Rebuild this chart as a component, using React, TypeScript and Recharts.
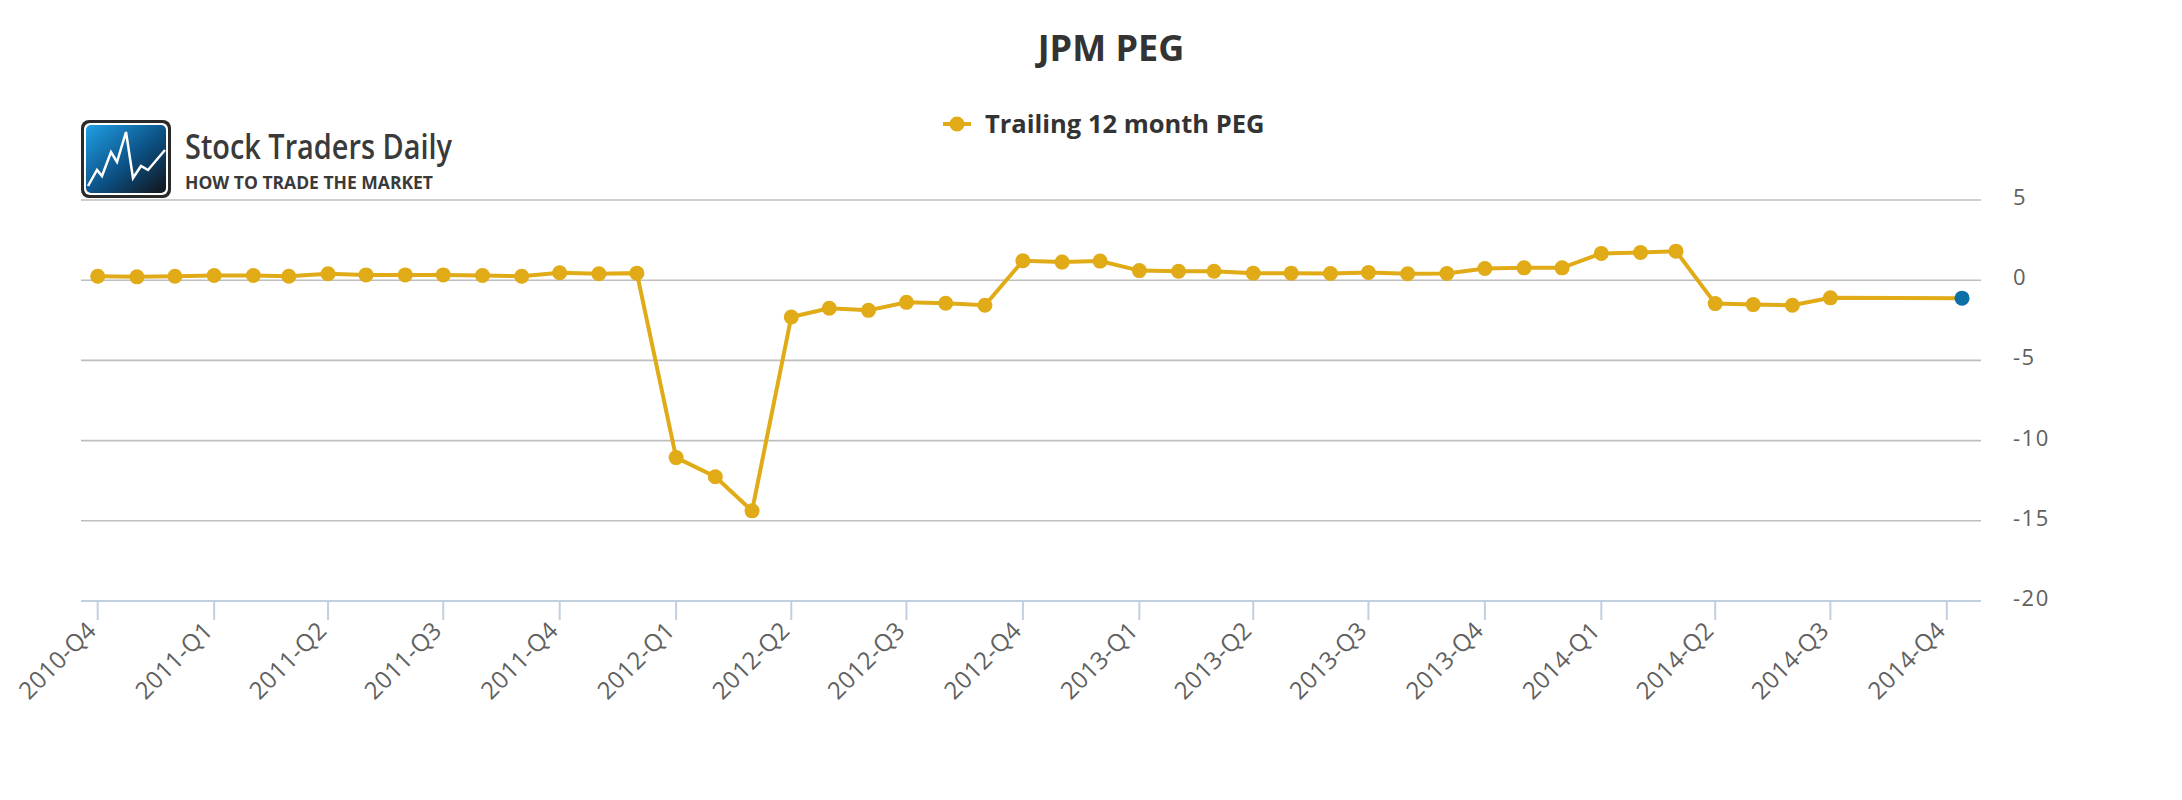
import React from 'react';
import { LineChart, Line, XAxis, YAxis, CartesianGrid } from 'recharts';

// ---- data ----
const title = 'JPM PEG';
const seriesName = 'Trailing 12 month PEG';
const brandName = 'Stock Traders Daily';
const brandTagline = 'HOW TO TRADE THE MARKET';

const dates = [
  '2010-10-01', '2010-11-01', '2010-12-01',
  '2011-01-01', '2011-02-01', '2011-03-01', '2011-04-01', '2011-05-01', '2011-06-01',
  '2011-07-01', '2011-08-01', '2011-09-01', '2011-10-01', '2011-11-01', '2011-12-01',
  '2012-01-01', '2012-02-01', '2012-03-01', '2012-04-01', '2012-05-01', '2012-06-01',
  '2012-07-01', '2012-08-01', '2012-09-01', '2012-10-01', '2012-11-01', '2012-12-01',
  '2013-01-01', '2013-02-01', '2013-03-01', '2013-04-01', '2013-05-01', '2013-06-01',
  '2013-07-01', '2013-08-01', '2013-09-01', '2013-10-01', '2013-11-01', '2013-12-01',
  '2014-01-01', '2014-02-01', '2014-03-01', '2014-04-01', '2014-05-01', '2014-06-01',
  '2014-07-01', '2014-10-13',
];

const peg = [
  0.25, 0.21, 0.25,
  0.29, 0.29, 0.25, 0.40, 0.33, 0.33,
  0.33, 0.29, 0.25, 0.46, 0.40, 0.44,
  -11.06, -12.25, -14.38, -2.29, -1.75, -1.88,
  -1.38, -1.44, -1.56, 1.21, 1.13, 1.19,
  0.60, 0.56, 0.56, 0.44, 0.44, 0.42,
  0.48, 0.40, 0.42, 0.73, 0.77, 0.77,
  1.67, 1.73, 1.81, -1.46, -1.52, -1.56,
  -1.10, -1.12,
];

const quarterTickDates = [
  '2010-10-01', '2011-01-01', '2011-04-01', '2011-07-01', '2011-10-01',
  '2012-01-01', '2012-04-01', '2012-07-01', '2012-10-01',
  '2013-01-01', '2013-04-01', '2013-07-01', '2013-10-01',
  '2014-01-01', '2014-04-01', '2014-07-01', '2014-10-01',
];
const quarterTickLabels = [
  '2010-Q4', '2011-Q1', '2011-Q2', '2011-Q3', '2011-Q4',
  '2012-Q1', '2012-Q2', '2012-Q3', '2012-Q4',
  '2013-Q1', '2013-Q2', '2013-Q3', '2013-Q4',
  '2014-Q1', '2014-Q2', '2014-Q3', '2014-Q4',
];
const yTicks = [-20, -15, -10, -5, 0, 5];

// ---- derived ----
const toTime = (s: string) => Date.parse(s + 'T00:00:00Z');
const data = dates.map((d, i) => ({ t: toTime(d), peg: peg[i] }));
const tickTimes = quarterTickDates.map(toTime);
const labelByTime = new Map<number, string>(tickTimes.map((t, i) => [t, quarterTickLabels[i]]));
const DAY = 86400000;
const xDomain = [data[0].t - 13.2 * DAY, data[data.length - 1].t + 15 * DAY];

const YELLOW = '#E0AB16';
const BLUE = '#0D6FA8';
const AXIS = '#C0D0E0';
const LABEL = '#606060';
const FONT = '"Open Sans", "DejaVu Sans", sans-serif';

const XTick = (props: any) => {
  const { x, y, payload } = props;
  return (
    <text
      x={x}
      y={y}
      transform={`rotate(-45 ${x} ${y})`}
      textAnchor="end"
      fontSize={24}
      letterSpacing={0.3}
      fill={LABEL}
      fontFamily={FONT}
    >
      {labelByTime.get(payload.value)}
    </text>
  );
};

const YTick = (props: any) => {
  const { x, y, payload } = props;
  return (
    <text x={x} y={y} dy={5} textAnchor="start" fontSize={22} letterSpacing={1.5} fill={LABEL} fontFamily={FONT}>
      {String(payload.value)}
    </text>
  );
};

const Dot = (props: any) => {
  const { cx, cy, index } = props;
  if (cx == null || cy == null) return null;
  const last = index === data.length - 1;
  return <circle key={`d${index}`} cx={cx} cy={cy} r={7.5} fill={last ? BLUE : YELLOW} />;
};

const Overlay = () => (
  <svg
    width={2182}
    height={800}
    style={{ position: 'absolute', left: 0, top: 0, pointerEvents: 'none' }}
  >
    <defs>
      <linearGradient id="logoGrad" x1="0" y1="0" x2="1" y2="1">
        <stop offset="0" stopColor="#1FA0E6" />
        <stop offset="0.55" stopColor="#0C4F82" />
        <stop offset="1" stopColor="#121418" />
      </linearGradient>
    </defs>
    {/* title */}
    <text x={1111} y={61} textAnchor="middle" fontSize={36} fontWeight={700} fill="#333333" fontFamily={FONT}>
      {title}
    </text>
    {/* legend */}
    <line x1={943} y1={124} x2={971} y2={124} stroke={YELLOW} strokeWidth={4} />
    <circle cx={957} cy={124} r={7.5} fill={YELLOW} />
    <text x={985} y={133} fontSize={25.5} fontWeight={700} fill="#333333" fontFamily={FONT}>
      {seriesName}
    </text>
    {/* logo */}
    <rect x={81} y={120} width={90} height={78} rx={8} fill="#2a2a2a" />
    <rect x={84} y={123} width={84} height={72} rx={6} fill="#ffffff" />
    <rect x={86} y={125} width={80} height={68} rx={5} fill="url(#logoGrad)" />
    <polyline
      points="88,186 97,170 102,176 111,152 117,162 126,132 133,178 141,166 148,170 165,150"
      fill="none"
      stroke="#ffffff"
      strokeWidth={2.5}
      strokeLinejoin="miter"
    />
    <text
      x={185}
      y={159}
      fontSize={34}
      fontWeight={600}
      fill="#3a3a3a"
      fontFamily={FONT}
      textLength={267}
      lengthAdjust="spacingAndGlyphs"
    >
      {brandName}
    </text>
    <text
      x={185}
      y={189}
      fontSize={18}
      fontWeight={700}
      fill="#3a3a3a"
      fontFamily={FONT}
      textLength={248}
      lengthAdjust="spacingAndGlyphs"
    >
      {brandTagline}
    </text>
  </svg>
);

export default function App() {
  return (
    <div style={{ position: 'absolute', left: 0, top: 0, width: 2182, height: 800, background: '#ffffff' }}>
      <LineChart
        width={2182}
        height={800}
        data={data}
        margin={{ top: 200, right: 21, bottom: 79, left: 81 }}
      >
        <CartesianGrid vertical={false} stroke="#BEBEBE" strokeWidth={1.6} />
        <XAxis
          type="number"
          dataKey="t"
          domain={xDomain}
          ticks={tickTimes}
          interval={0}
          allowDataOverflow
          height={120}
          tickSize={19}
          tickMargin={12}
          axisLine={{ stroke: AXIS, strokeWidth: 2 }}
          tickLine={{ stroke: AXIS, strokeWidth: 2 }}
          tick={<XTick />}
        />
        <YAxis
          orientation="right"
          width={180}
          domain={[-20, 5]}
          ticks={yTicks}
          interval={0}
          axisLine={false}
          tickLine={false}
          tickSize={0}
          tickMargin={32}
          tick={<YTick />}
        />
        <Line
          type="linear"
          dataKey="peg"
          stroke={YELLOW}
          strokeWidth={4}
          dot={<Dot />}
          activeDot={false}
          isAnimationActive={false}
        />
      </LineChart>
      <Overlay />
    </div>
  );
}
